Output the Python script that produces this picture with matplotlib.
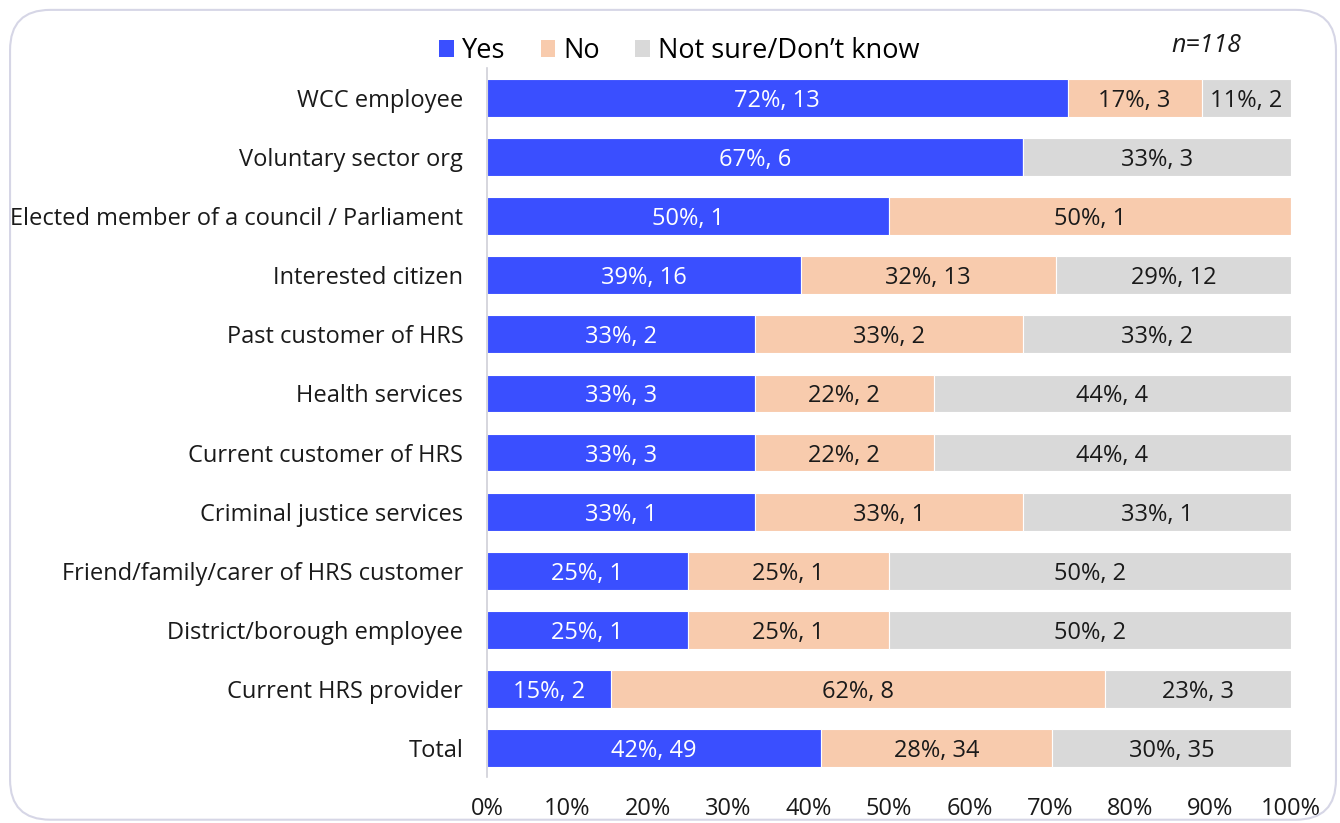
import numpy as np
import matplotlib as mpl, matplotlib.pyplot as plt
from matplotlib.patches import Patch, FancyBboxPatch

## data
categories = ['WCC employee', 'Voluntary sector org', 'Elected member of a council / Parliament',
              'Interested citizen', 'Past customer of HRS', 'Health services',
              'Current customer of HRS', 'Criminal justice services',
              'Friend/family/carer of HRS customer', 'District/borough employee',
              'Current HRS provider', 'Total']
yes_n    = [13, 6, 1, 16, 2, 3, 3, 1, 1, 1, 2, 49]
no_n     = [3, 0, 1, 13, 2, 2, 2, 1, 1, 1, 8, 34]
unsure_n = [2, 3, 0, 12, 2, 4, 4, 1, 2, 2, 3, 35]
yes_pct    = [72, 67, 50, 39, 33, 33, 33, 33, 25, 25, 15, 42]
no_pct     = [17, 0, 50, 32, 33, 22, 22, 33, 25, 25, 62, 28]
unsure_pct = [11, 33, 0, 29, 33, 44, 44, 33, 50, 50, 23, 30]
series_names = ['Yes', 'No', 'Not sure/Don\u2019t know']
n_total = 118

## basic settings
plt.rcParams['font.family'] = ['Open Sans', 'DejaVu Sans']
colors = ['#3A4FFF', '#F8CBAD', '#D9D9D9']
txt_colors = ['white', '#1a1a1a', '#1a1a1a']
fs = 17

## figure and axes
fig = plt.figure(figsize=(13.4, 8.23), dpi=100)
ax = fig.add_axes([0.3634, 0.0553, 0.6, 0.8615])

# rounded frame round the whole figure
frame = FancyBboxPatch((0.0075, 0.004), 0.9895, 0.984, boxstyle='round,pad=0,rounding_size=0.03',
                       transform=fig.transFigure, facecolor='none', edgecolor='#D6D6E6',
                       linewidth=1.5, mutation_aspect=13.4 / 8.23)
fig.patches.append(frame)

counts = np.array([yes_n, no_n, unsure_n], dtype=float)
pcts = np.array([yes_pct, no_pct, unsure_pct])
shares = counts / counts.sum(axis=0) * 100
y = np.arange(len(categories))
left = np.zeros(len(categories))
for i in range(3):
    ax.barh(y, shares[i], left=left, height=0.64, color=colors[i], edgecolor='white',
            linewidth=0.8, label=series_names[i])
    for j in range(len(categories)):
        if counts[i, j] > 0:
            ax.text(left[j] + shares[i, j] / 2, y[j], f"{pcts[i, j]}%, {int(counts[i, j])}",
                    ha='center', va='center_baseline', color=txt_colors[i], fontsize=fs)
    left += shares[i]

## axes style
ax.set_xlim(0, 100)
ax.set_ylim(len(categories) - 0.5, -0.5)
ax.set_yticks(y, categories)
ax.set_xticks(np.arange(0, 101, 10), [f"{v}%" for v in range(0, 101, 10)])
ax.tick_params(axis='y', length=0, pad=17, labelsize=fs, labelcolor='#1a1a1a')
ax.tick_params(axis='x', length=0, pad=14, labelsize=fs, labelcolor='#1a1a1a')
for s in ['top', 'right', 'bottom']:
    ax.spines[s].set_visible(False)
ax.spines['left'].set_color('#D0D0D8')
ax.spines['left'].set_linewidth(1.2)

## legend and n
handles = [Patch(facecolor=c, edgecolor='none') for c in colors]
fig.legend(handles, series_names, loc='center', bbox_to_anchor=(0.507, 0.938), ncol=3,
           frameon=False, fontsize=19.5, handlelength=0.55, handleheight=0.55,
           handletextpad=0.3, columnspacing=1.3)
fig.text(0.9, 0.945, f"n={n_total}", ha='center', va='center', fontsize=18,
         style='italic', color='#1a1a1a')

plt.savefig('out.png', dpi=100)
plt.close(fig)
